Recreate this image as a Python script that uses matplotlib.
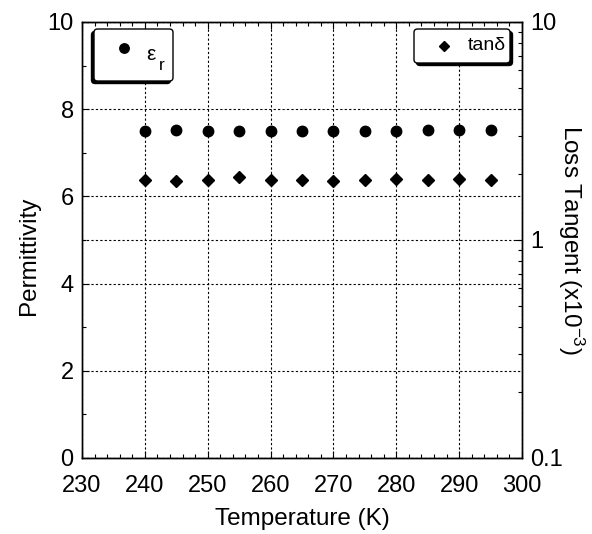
import matplotlib
matplotlib.use("Agg")
import matplotlib.pyplot as plt
from matplotlib.ticker import MultipleLocator, LogLocator, FixedLocator, NullFormatter, FixedFormatter
from matplotlib.patches import FancyBboxPatch

plt.rcParams['font.family'] = ['Liberation Sans', 'DejaVu Sans']
plt.rcParams['mathtext.fontset'] = 'custom'
plt.rcParams['mathtext.rm'] = 'Liberation Sans'
plt.rcParams['mathtext.it'] = 'Liberation Sans'

temperature = [240, 245, 250, 255, 260, 265, 270, 275, 280, 285, 290, 295]
permittivity = [7.51, 7.52, 7.50, 7.49, 7.51, 7.51, 7.50, 7.51, 7.51, 7.52, 7.52, 7.53]
loss_tangent = [1.88, 1.86, 1.88, 1.95, 1.88, 1.89, 1.87, 1.89, 1.90, 1.88, 1.90, 1.89]

W, H = 592, 534
AX_L, AX_R, AX_T, AX_B = 82, 522, 22, 458

fig = plt.figure(figsize=(W/100, H/100), dpi=100)
ax = fig.add_axes([AX_L/W, 1-AX_B/H, (AX_R-AX_L)/W, (AX_B-AX_T)/H])
ax2 = ax.twinx()


def fx(px):
    return (px - AX_L) / (AX_R - AX_L)


def fy(py):
    return (AX_B - py) / (AX_B - AX_T)


fs = 17
lfs = 17.5
grid_kw = dict(color='black', linestyle=(0, (2, 2)), linewidth=0.8)

ax.set_xlim(230, 300)
ax.set_ylim(0, 10)
ax.xaxis.set_major_locator(MultipleLocator(10))
ax.xaxis.set_minor_locator(MultipleLocator(2))
ax.yaxis.set_major_locator(MultipleLocator(2))
ax.yaxis.set_minor_locator(MultipleLocator(1))
ax.tick_params(which='both', direction='in', top=True, right=False, labelsize=fs)
ax.tick_params(axis='x', pad=12.5)
ax.tick_params(axis='y', pad=6)
ax.tick_params(which='major', length=5, width=0.8)
ax.tick_params(which='minor', length=3, width=0.8)
ax.grid(True, which='major', **grid_kw)
ax.set_axisbelow(True)

ax2.set_yscale('log')
ax2.set_ylim(0.1, 10)
ax2.yaxis.set_major_locator(FixedLocator([0.1, 1, 10]))
ax2.yaxis.set_major_formatter(FixedFormatter(['0.1', '1', '10']))
ax2.yaxis.set_minor_locator(LogLocator(base=10, subs=range(2, 10)))
ax2.yaxis.set_minor_formatter(NullFormatter())
ax2.tick_params(which='both', direction='in', labelsize=fs, pad=6)
ax2.tick_params(which='major', length=5, width=0.8)
ax2.tick_params(which='minor', length=3, width=0.8)
ax2.grid(True, which='major', axis='y', **grid_kw)

ax.plot(temperature, permittivity, linestyle='none', marker='o', markersize=7.5,
        color='black', zorder=5)
ax2.plot(temperature, loss_tangent, linestyle='none', marker='D', markersize=6,
         color='black', zorder=5)

for a in (ax, ax2):
    for s in a.spines.values():
        s.set_linewidth(1.0)

ax.set_xlabel('Temperature (K)', fontsize=lfs, labelpad=8)
ax.set_ylabel('Permittivity', fontsize=lfs)
ax.yaxis.set_label_coords(fx(40), fy(256))
ax2.set_ylabel('Loss Tangent (x10$^{-3}$)', fontsize=lfs, rotation=270, labelpad=17)


def legend_box(axis, x0, y0, x1, y1, sdx, sdy):
    aspect = (AX_R - AX_L) / (AX_B - AX_T)
    shadow = FancyBboxPatch((fx(x0 + sdx), fy(y1 + sdy)), fx(x1) - fx(x0), fy(y0) - fy(y1),
                            boxstyle='round,pad=0,rounding_size=0.008',
                            mutation_aspect=aspect,
                            transform=axis.transAxes, facecolor='black',
                            edgecolor='black', linewidth=1.0, zorder=6, clip_on=False)
    box = FancyBboxPatch((fx(x0), fy(y1)), fx(x1) - fx(x0), fy(y0) - fy(y1),
                         boxstyle='round,pad=0,rounding_size=0.008',
                         mutation_aspect=aspect,
                         transform=axis.transAxes, facecolor='white',
                         edgecolor='black', linewidth=1.0, zorder=7, clip_on=False)
    axis.add_patch(shadow)
    axis.add_patch(box)


legend_box(ax2, 94, 29, 173, 81, -2.5, 2.5)
ax2.plot([fx(124)], [fy(48)], transform=ax2.transAxes, linestyle='none', marker='o',
         markersize=6.8, color='black', zorder=8, clip_on=False)
ax2.text(fx(146), fy(54), '\u03b5', transform=ax2.transAxes, fontsize=15,
         ha='left', va='center', zorder=8)
ax2.text(fx(158.5), fy(65), 'r', transform=ax2.transAxes, fontsize=12.5,
         ha='left', va='center', zorder=8)

legend_box(ax2, 414, 29, 510, 63, 2.5, 2.5)
ax2.plot([fx(444)], [fy(46)], transform=ax2.transAxes, linestyle='none', marker='D',
         markersize=5.5, color='black', zorder=8, clip_on=False)
ax2.text(fx(468), fy(46), 'tan\u03b4', transform=ax2.transAxes, fontsize=14,
         ha='left', va='center', zorder=8)

fig.savefig('out.png', dpi=100)
